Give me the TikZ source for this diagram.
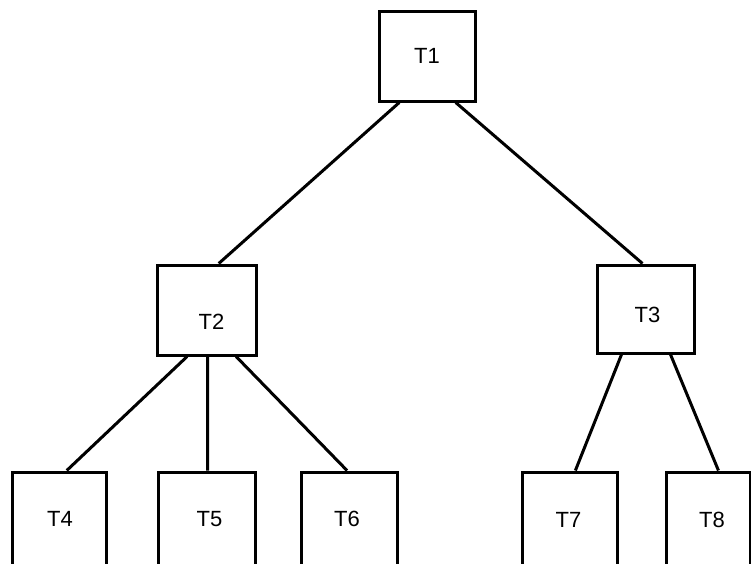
\documentclass[tikz,border=0pt]{standalone}
\usepackage{fontspec}
\setmainfont{Liberation Sans}
\usetikzlibrary{calc}
\begin{document}
\begin{tikzpicture}[x=1pt,y=-1pt,
  tbox/.style={draw=black, line width=3pt, fill=white, inner sep=0pt},
  tlab/.style={font=\fontsize{22}{26}\selectfont, inner sep=0pt},
  link/.style={draw=black, line width=3pt}]
\useasboundingbox (0,0) rectangle (751,563);
\clip (0,0) rectangle (751,563);
\fill[white] (0,0) rectangle (751,563);
\node[tbox, minimum width=96pt, minimum height=90pt, label={[tlab]center:T1}] (T1) at (427,56) {};
\node[tbox, minimum width=99pt, minimum height=90pt, label={[tlab, xshift=5pt, yshift=-12pt]center:T2}] (T2) at (206.5,310) {};
\node[tbox, minimum width=97pt, minimum height=88pt, label={[tlab, xshift=2pt, yshift=-6pt]center:T3}] (T3) at (645.5,309) {};
\node[tbox, minimum width=94pt, minimum height=100pt, label={[tlab, xshift=1pt, yshift=3pt]center:T4}] (T4) at (59,522) {};
\node[tbox, minimum width=97pt, minimum height=100pt, label={[tlab, xshift=3pt, yshift=3pt]center:T5}] (T5) at (206.5,522) {};
\node[tbox, minimum width=96pt, minimum height=100pt, label={[tlab, xshift=-2pt, yshift=3pt]center:T6}] (T6) at (349,522) {};
\node[tbox, minimum width=95pt, minimum height=100pt, label={[tlab, xshift=-1pt, yshift=2pt]center:T7}] (T7) at (569.5,522) {};
\node[tbox, minimum width=84pt, minimum height=100pt, label={[tlab, xshift=4pt, yshift=2pt]center:T8}] (T8) at (708,522) {};
% connectors
\draw[link] ($(T1.south west)!0.22!(T1.south east)$) -- ($(T2.north west)!0.62!(T2.north east)$);
\draw[link] ($(T1.south west)!0.79!(T1.south east)$) -- ($(T3.north west)!0.47!(T3.north east)$);
\draw[link] ($(T2.south west)!0.31!(T2.south east)$) -- ($(T4.north west)!0.58!(T4.north east)$);
\draw[link] ($(T2.south west)!0.51!(T2.south east)$) -- ($(T5.north west)!0.51!(T5.north east)$);
\draw[link] ($(T2.south west)!0.79!(T2.south east)$) -- ($(T6.north west)!0.48!(T6.north east)$);
\draw[link] ($(T3.south west)!0.26!(T3.south east)$) -- ($(T7.north west)!0.56!(T7.north east)$);
\draw[link] ($(T3.south west)!0.75!(T3.south east)$) -- ($(T8.north west)!0.62!(T8.north east)$);
\end{tikzpicture}
\end{document}
